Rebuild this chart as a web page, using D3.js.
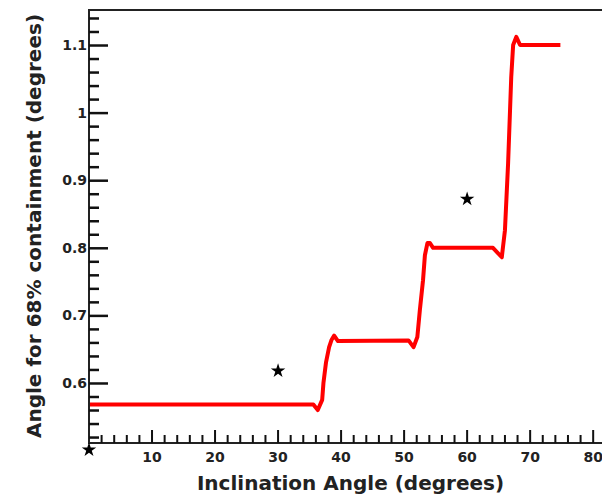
<!DOCTYPE html>
<html>
<head>
<meta charset="utf-8">
<script src="https://cdn.jsdelivr.net/npm/d3@7"></script>
<style>
    body { margin: 0; background: #fff; }
    svg { display: block; font-family: "DejaVu Sans", Arial, sans-serif; }
</style>
</head>
<body>
<div class="canvas"></div>
<script>
// containment curve (inclination, angle)
const curveX = [0, 35.6, 36.3, 37.0, 37.2, 37.6, 38.1, 38.5, 38.9, 39.5, 50.7, 51.5, 52.1, 52.5, 53.0, 53.3, 53.7, 54.1, 54.6, 64.1, 65.5, 66.0, 66.5, 67.0, 67.3, 67.8, 68.4, 74.8];
const curveY = [0.568, 0.568, 0.560, 0.575, 0.600, 0.630, 0.653, 0.664, 0.670, 0.662, 0.663, 0.653, 0.668, 0.708, 0.752, 0.789, 0.807, 0.807, 0.800, 0.800, 0.786, 0.826, 0.925, 1.053, 1.100, 1.112, 1.100, 1.100];

// measured points
const starX = [0, 30, 60];
const starY = [0.501, 0.618, 0.872];

const xTickLabels = [10, 20, 30, 40, 50, 60, 70, 80];
const yTickLabels = [0.6, 0.7, 0.8, 0.9, 1, 1.1];

class ContainmentPlot {
    constructor(svg) {
        this.svg = svg;
        this.frame = {left: 89, top: 10, right: 602, bottom: 443};
        this.x = d3.scaleLinear().domain([0, 81.4]).range([this.frame.left, this.frame.right]);
        this.y = d3.scaleLinear().domain([0.5112, 1.1518]).range([this.frame.bottom, this.frame.top]);
        this.initialize();
    }

    initialize() {
        this.addCurve();
        this.addFrame();
        this.addXAxis();
        this.addStars();
        this.addTitles();
        this.addYAxis();
    }

    addFrame() {
        const f = this.frame;
        this.svg.append("path")
            .attr("d", `M${f.right},${f.top}H${f.left}V${f.bottom}H${f.right}`)
            .attr("fill", "none")
            .attr("stroke", "#222")
            .attr("stroke-width", 2);
    }

    addXAxis() {
        const minor = d3.range(0, 41).map(d => d * 2).filter(d => d % 10 !== 0);
        const bottom = this.frame.bottom;
        const g = this.svg.append("g");

        // ticks point into the frame, ROOT style
        const ticks = minor.map(d => `M${this.x(d)},${bottom}v-8`)
            .concat(xTickLabels.map(d => `M${this.x(d)},${bottom}v-13`));
        g.append("path")
            .attr("d", ticks.join(""))
            .attr("fill", "none")
            .attr("stroke", "#111")
            .attr("stroke-width", 2);

        g.selectAll("text")
            .data(xTickLabels)
            .enter()
            .append("text")
            .attr("x", d => this.x(d))
            .attr("y", bottom + 19)
            .attr("text-anchor", "middle")
            .attr("fill", "#222")
            .style("font-size", "14px")
            .style("font-weight", "bold")
            .text(d3.format("d"));
    }

    addYAxis() {
        const minor = d3.range(26, 58).map(d => d * 0.02)
            .filter(d => Math.abs(d * 10 - Math.round(d * 10)) > 0.01);
        const left = this.frame.left;

        // axisRight on the left edge: ticks grow into the frame
        const minorAxis = this.svg.append("g")
            .attr("transform", `translate(${left}, 0)`)
            .call(d3.axisRight(this.y).tickValues(minor).tickSize(10).tickFormat(""));
        const majorAxis = this.svg.append("g")
            .attr("transform", `translate(${left}, 0)`)
            .call(d3.axisRight(this.y).tickValues(yTickLabels).tickSize(19).tickFormat(""));
        [minorAxis, majorAxis].forEach(g => {
            g.select(".domain").remove();
            g.selectAll("line")
                .attr("stroke", "#111")
                .attr("stroke-width", 2.5);
        });

        this.svg.append("g").selectAll("text")
            .data(yTickLabels)
            .enter()
            .append("text")
            .attr("x", left - 2)
            .attr("y", d => this.y(d))
            .attr("dy", "0.35em")
            .attr("text-anchor", "end")
            .attr("fill", "#222")
            .style("font-size", "14px")
            .style("font-weight", "bold")
            .text(d => d3.format("")(d));
    }

    addCurve() {
        const line = d3.line()
            .x(i => this.x(curveX[i]))
            .y(i => this.y(curveY[i]));
        this.svg.append("path")
            .attr("d", line(d3.range(curveX.length)))
            .attr("fill", "none")
            .attr("stroke", "#ff0000")
            .attr("stroke-width", 4)
            .attr("stroke-linejoin", "round");
    }

    addStars() {
        const star = d3.symbol().type(d3.symbolStar).size(65);
        this.svg.selectAll("path.star")
            .data(d3.range(starX.length))
            .enter()
            .append("path")
            .attr("class", "star")
            .attr("d", star)
            .attr("transform", i => `translate(${this.x(starX[i])}, ${this.y(starY[i])})`)
            .attr("fill", "#000");
    }

    addTitles() {
        this.svg.append("text")
            .attr("x", (this.frame.left + this.frame.right) / 2 + 5)
            .attr("y", 490)
            .attr("text-anchor", "middle")
            .style("font-size", "20px")
            .style("font-weight", "bold")
            .attr("fill", "#222")
            .text("Inclination Angle (degrees)");

        this.svg.append("text")
            .attr("transform", "rotate(-90)")
            .attr("x", -226)
            .attr("y", 41)
            .attr("text-anchor", "middle")
            .style("font-size", "20px")
            .style("font-weight", "bold")
            .attr("fill", "#222")
            .text("Angle for 68% containment (degrees)");
    }
}

const svg = d3.select(".canvas").append("svg")
    .attr("width", 602)
    .attr("height", 500);

new ContainmentPlot(svg);
</script>
</body>
</html>
